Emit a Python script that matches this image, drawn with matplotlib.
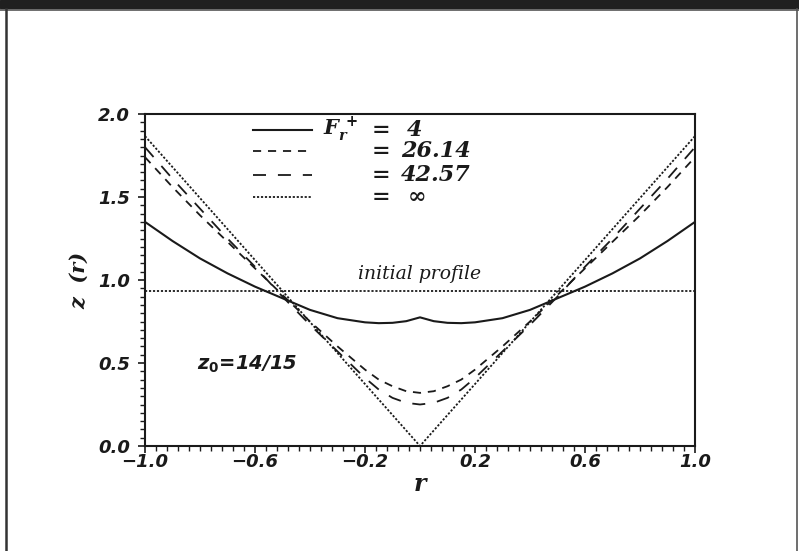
import numpy as np
import matplotlib.pyplot as plt
from matplotlib.patches import Rectangle
from matplotlib.lines import Line2D
from matplotlib.ticker import MultipleLocator

plt.rcParams['mathtext.fontset'] = 'custom'
plt.rcParams['mathtext.it'] = 'DejaVu Serif:italic:bold'
plt.rcParams['mathtext.rm'] = 'DejaVu Sans:bold'

# profils z(r) pour differentes valeurs de F_r^+
r = [-1.0, -0.9, -0.8, -0.7, -0.6, -0.5, -0.4, -0.3, -0.2, -0.15, -0.1, -0.05,
     0.0, 0.05, 0.1, 0.15, 0.2, 0.3, 0.4, 0.5, 0.6, 0.7, 0.8, 0.9, 1.0]
z_f4 = [1.35, 1.235, 1.13, 1.04, 0.96, 0.89, 0.82, 0.77, 0.745, 0.74, 0.742, 0.752,
        0.775, 0.752, 0.742, 0.74, 0.745, 0.77, 0.82, 0.89, 0.96, 1.04, 1.13, 1.235, 1.35]
z_f26 = [1.74, 1.56, 1.39, 1.23, 1.07, 0.91, 0.75, 0.60, 0.46, 0.40, 0.36, 0.33,
         0.32, 0.33, 0.36, 0.40, 0.46, 0.60, 0.75, 0.91, 1.07, 1.23, 1.39, 1.56, 1.74]
z_f42 = [1.80, 1.61, 1.43, 1.25, 1.08, 0.90, 0.73, 0.57, 0.41, 0.34, 0.29, 0.26,
         0.25, 0.26, 0.29, 0.34, 0.41, 0.57, 0.73, 0.90, 1.08, 1.25, 1.43, 1.61, 1.80]
r_inf = [-1.0, 0.0, 1.0]
z_inf = [1.867, 0.0, 1.867]
r_init = [-1.0, 1.0]
z_init = [14 / 15, 14 / 15]

F_vals = ['4', '26.14', '42.57', '∞']

ink = '#1a1a1a'
fig = plt.figure(figsize=(7.99, 5.51), dpi=100)

# bandeau et cadre de la diapo
fig.patches.append(Rectangle((0, 1 - 8 / 551), 1, 8 / 551, transform=fig.transFigure,
                             color='#202020', zorder=0))
fig.lines.append(Line2D([0, 1], [1 - 9.5 / 551] * 2, transform=fig.transFigure,
                        color='#555555', lw=1.2))
fig.lines.append(Line2D([6 / 799] * 2, [0, 1 - 9 / 551], transform=fig.transFigure,
                        color='#333333', lw=1.8))
fig.lines.append(Line2D([797 / 799] * 2, [0, 1 - 9 / 551], transform=fig.transFigure,
                        color='#555555', lw=1.2))

ax = fig.add_axes([145 / 799, 105 / 551, 550 / 799, 332 / 551])

lw = 1.3
styles = [dict(ls='-', lw=1.5),
          dict(ls=(0, (4.5, 3.8)), lw=lw),
          dict(ls=(0, (7.2, 6.6)), lw=lw),
          dict(ls=(0, (1.2, 1.0)), lw=lw)]

ax.plot(r, z_f4, color=ink, **styles[0])
ax.plot(r, z_f26, color=ink, **styles[1])
ax.plot(r, z_f42, color=ink, **styles[2])
ax.plot(r_inf, z_inf, color=ink, **styles[3])
ax.plot(r_init, z_init, color=ink, **styles[3])

ax.set_xlim(-1.0, 1.0)
ax.set_ylim(0.0, 2.0)
ax.xaxis.set_minor_locator(MultipleLocator(0.04))
ax.yaxis.set_minor_locator(MultipleLocator(0.05))
ax.set_xticks([-1.0, -0.6, -0.2, 0.2, 0.6, 1.0])
ax.set_xticklabels(['−1.0', '−0.6', '−0.2', '0.2', '0.6', '1.0'])
ax.set_yticks([0.0, 0.5, 1.0, 1.5, 2.0])
ax.set_yticklabels(['0.0', '0.5', '1.0', '1.5', '2.0'])

tick_font = dict(family='DejaVu Sans', style='oblique', weight='bold', size=13)
for lab in ax.get_xticklabels() + ax.get_yticklabels():
    lab.set_fontproperties(tick_font)
    lab.set_color(ink)
ax.tick_params(which='major', direction='out', length=5, width=1.2, color=ink)
ax.tick_params(which='minor', direction='out', length=3.5, width=1.0, color=ink)
ax.tick_params(axis='x', pad=0)
ax.tick_params(axis='y', pad=6)
for sp in ax.spines.values():
    sp.set_linewidth(1.5)
    sp.set_color(ink)

serif = dict(family='DejaVu Serif', style='italic', weight='bold')
ax.set_xlabel('r', fontsize=17, color=ink, labelpad=1, **serif)
ax.set_ylabel('z  (r)', fontsize=15, color=ink, labelpad=6, **serif)

# legende dessinee a la main
row_y = [0.953, 0.889, 0.815, 0.749]
for st, y, val in zip(styles, row_y, F_vals):
    ax.plot([0.197, 0.304], [y, y], transform=ax.transAxes, color=ink, **st)
    ax.text(0.412, y, '=', transform=ax.transAxes, va='center', ha='left',
            fontsize=16, color=ink, **serif)
    ax.text(0.477 if val in ('4', '∞') else 0.465, y, val, transform=ax.transAxes,
            va='center', ha='left', fontsize=16, color=ink, **serif)
ax.text(0.323, row_y[0], r'$F_r^{\,+}$', transform=ax.transAxes, va='center',
        ha='left', fontsize=15, color=ink)

ax.text(0.0, 14 / 15 + 0.1, 'initial profile', ha='center', va='center',
        fontsize=13.5, color=ink, family='DejaVu Serif', style='italic')
ax.text(-0.63, 0.5, 'z$_0$=14/15', ha='center', va='center', fontsize=14,
        color=ink, family='DejaVu Sans', style='oblique', weight='bold')

fig.savefig('out.png', dpi=100)
